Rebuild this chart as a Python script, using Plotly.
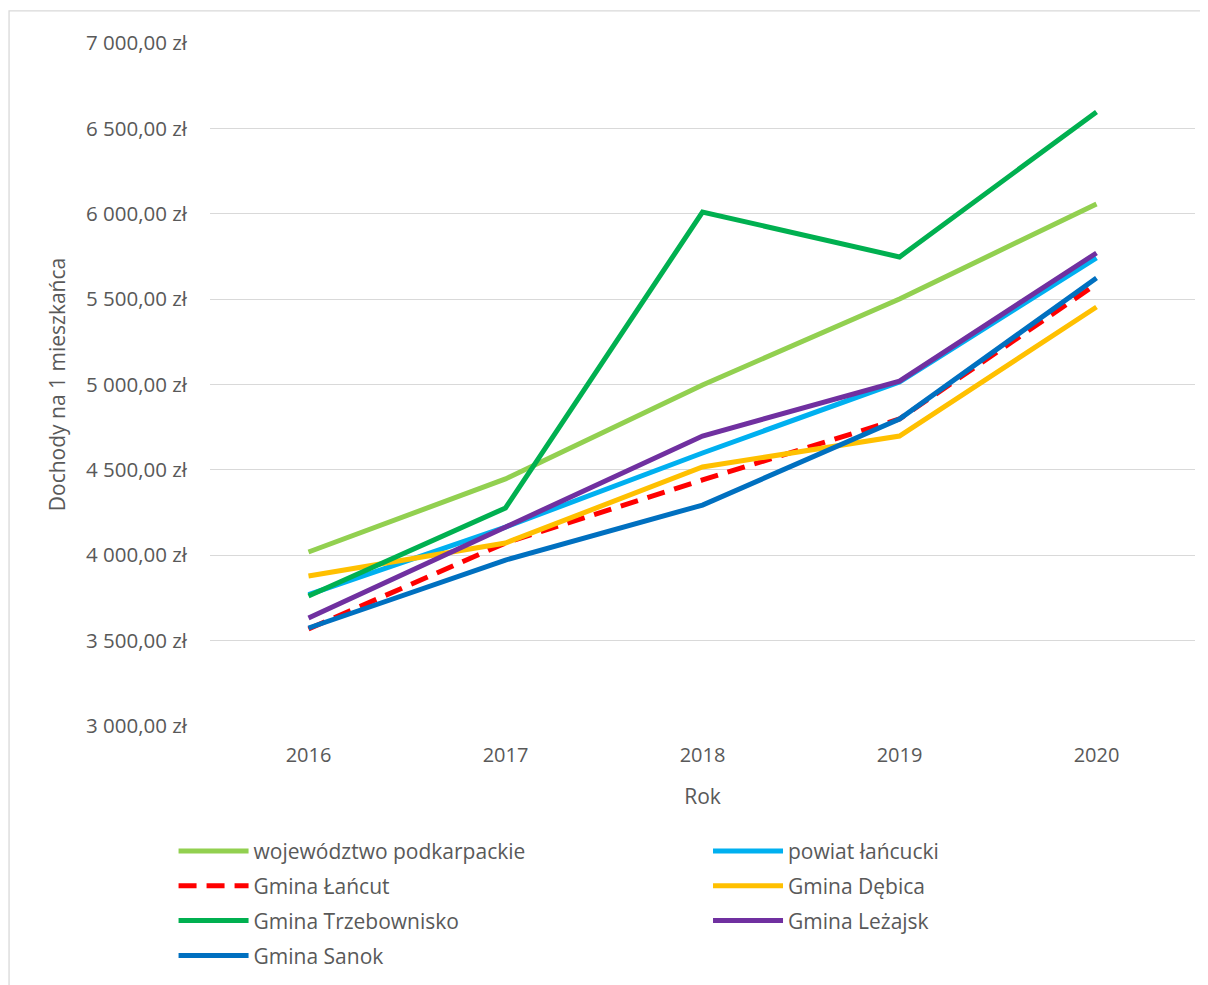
import plotly.graph_objects as go

years = ["2016", "2017", "2018", "2019", "2020"]
woj_podkarpackie = [4019, 4447, 4997, 5501, 6057]
powiat_lancucki = [3770, 4165, 4599, 5015, 5741]
gmina_lancut = [3568, 4072, 4441, 4798, 5589]
gmina_debica = [3878, 4072, 4517, 4698, 5454]
gmina_trzebownisko = [3761, 4277, 6010, 5747, 6596]
gmina_lezajsk = [3632, 4165, 4698, 5020, 5770]
gmina_sanok = [3574, 3972, 4294, 4798, 5624]

tick_vals = [3000, 3500, 4000, 4500, 5000, 5500, 6000, 6500, 7000]
tick_text = ["3 000,00 zł", "3 500,00 zł", "4 000,00 zł", "4 500,00 zł", "5 000,00 zł",
             "5 500,00 zł", "6 000,00 zł", "6 500,00 zł", "7 000,00 zł"]

# (name, values, colour, dash, legend column)
series = [
    ("województwo podkarpackie", woj_podkarpackie, "#92D050", "solid", "legend"),
    ("powiat łańcucki", powiat_lancucki, "#00B0F0", "solid", "legend2"),
    ("Gmina Łańcut", gmina_lancut, "#FF0000", "18px,10px", "legend"),
    ("Gmina Dębica", gmina_debica, "#FFC000", "solid", "legend2"),
    ("Gmina Trzebownisko", gmina_trzebownisko, "#00B050", "solid", "legend"),
    ("Gmina Leżajsk", gmina_lezajsk, "#7030A0", "solid", "legend2"),
    ("Gmina Sanok", gmina_sanok, "#0070C0", "solid", "legend"),
]

FONT = "Open Sans, Lato, sans-serif"
fig = go.Figure()
for i, (name, vals, color, dash, leg) in enumerate(series):
    fig.add_trace(go.Scatter(x=years, y=vals, name=name, mode="lines", legend=leg,
                             legendgroup="g%d" % i,
                             line=dict(color=color, width=5, dash=dash)))

legend_common = dict(orientation="v", yanchor="top", xanchor="left", y=-0.1535,
                     itemwidth=70, tracegroupgap=4.5, bgcolor="rgba(0,0,0,0)",
                     font=dict(size=21, color="#595959", family=FONT))

# page body has an 8px default margin, so the figure is 8px smaller
fig.update_layout(
    width=1200, height=977,
    margin=dict(l=202, r=13, t=35, b=259, autoexpand=False),
    paper_bgcolor="white", plot_bgcolor="white",
    font=dict(family=FONT, color="#595959", size=20),
    showlegend=True,
    legend=dict(x=-0.037, **legend_common),
    legend2=dict(x=0.5056, **legend_common),
    xaxis=dict(type="category", range=[-0.5, 4.5], showgrid=False, showline=False,
               ticks="", tickfont=dict(size=20), ticklabelstandoff=15, automargin=False,
               title=dict(text="Rok", font=dict(size=21), standoff=22)),
    yaxis=dict(range=[3000, 7000], tickvals=tick_vals, ticktext=tick_text,
               showgrid=True, gridcolor="#D9D9D9", gridwidth=1.3, zeroline=False,
               showline=False, ticks="", tickfont=dict(size=20.5), ticklabelstandoff=22,
               automargin=False,
               title=dict(text="Dochody na 1 mieszkańca", font=dict(size=21), standoff=14)),
    shapes=[dict(type="rect", xref="paper", yref="paper",
                 x0=-0.204, x1=1.2, y0=-0.5, y1=1.047,
                 line=dict(color="#D9D9D9", width=1.3), fillcolor="rgba(0,0,0,0)", layer="below")],
)

fig.write_html("out.html")
